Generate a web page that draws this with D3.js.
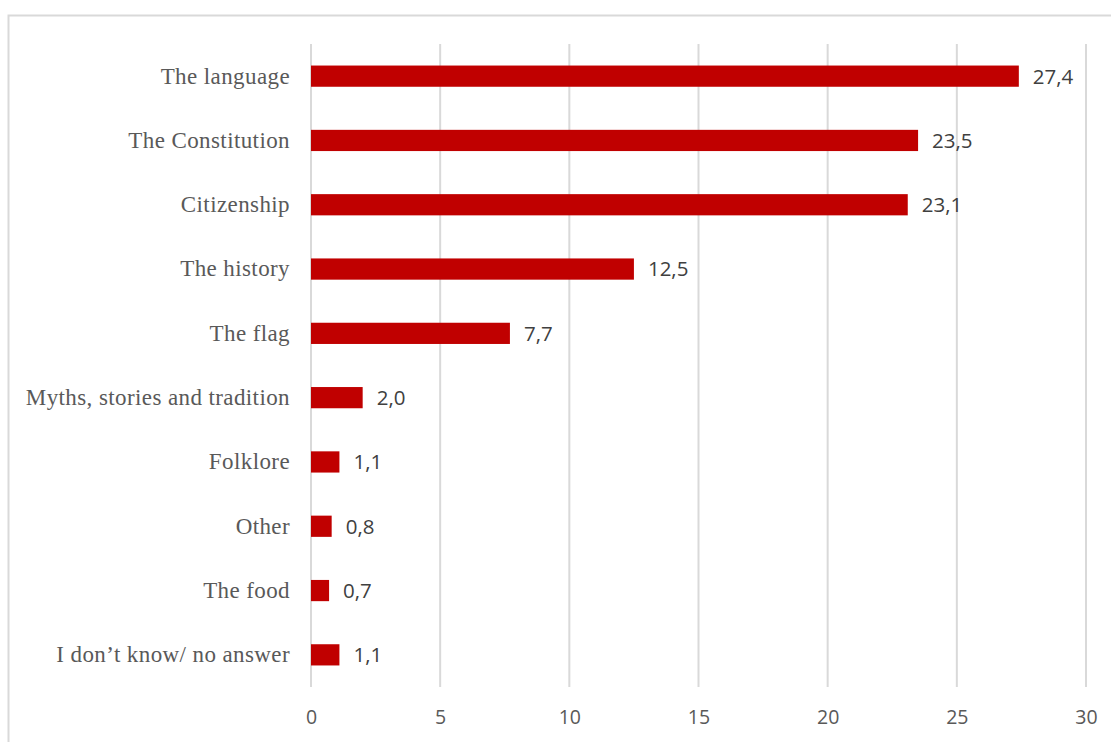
<!DOCTYPE html>
<html>
<head>
<meta charset="utf-8">
<script src="https://cdn.jsdelivr.net/npm/d3@7"></script>
<style>
  html, body { margin: 0; padding: 0; background: #fff; }
  svg { display: block; }
</style>
</head>
<body>
<svg id="chart" width="1111" height="742"></svg>
<script>
// Categories, top to bottom
const categories = [
  "The language",
  "The Constitution",
  "Citizenship",
  "The history",
  "The flag",
  "Myths, stories and tradition",
  "Folklore",
  "Other",
  "The food",
  "I don\u2019t know/ no answer"
];
// Share of answers (%)
const values = [27.4, 23.5, 23.1, 12.5, 7.7, 2.0, 1.1, 0.8, 0.7, 1.1];
// Value axis ticks
const tickValues = [0, 5, 10, 15, 20, 25, 30];

const svg = d3.select("#chart");
const W = 1111, H = 742;
const margin = { left: 311, right: 25, top: 44, bottom: 55 };

// Outer frame
svg.append("rect")
  .attr("x", 8.5).attr("y", 15.5)
  .attr("width", W + 20).attr("height", H + 20)
  .attr("fill", "none").attr("stroke", "#d9d9d9").attr("stroke-width", 2);

const x = d3.scaleLinear().domain([0, 30]).range([margin.left, W - margin.right]);
const y = d3.scaleBand().domain(categories)
  .range([margin.top, H - margin.bottom])
  .paddingInner(0.67).paddingOuter(0.335);

// Vertical gridlines
svg.append("g").selectAll("line").data(tickValues).join("line")
  .attr("x1", d => x(d)).attr("x2", d => x(d))
  .attr("y1", margin.top).attr("y2", H - margin.bottom)
  .attr("stroke", "#d9d9d9").attr("stroke-width", 2);

// X axis tick labels
const xAxis = d3.axisBottom(x).tickValues(tickValues).tickSize(0).tickPadding(0)
  .tickFormat(d => String(d));
const gx = svg.append("g")
  .attr("transform", `translate(0,${H - margin.bottom + 37})`)
  .call(xAxis);
gx.select(".domain").remove();
gx.selectAll("text")
  .attr("dy", "0")
  .attr("font-family", "'Open Sans', 'Liberation Sans', sans-serif")
  .attr("font-size", 19.5).attr("fill", "#595959");

// Category labels
const yAxis = d3.axisLeft(y).tickSize(0).tickPadding(21);
const gy = svg.append("g")
  .attr("transform", `translate(${margin.left},0)`)
  .call(yAxis);
gy.select(".domain").remove();
gy.selectAll("text")
  .attr("font-family", "'Liberation Serif', 'Times New Roman', serif")
  .attr("font-size", 23).attr("letter-spacing", 0.4)
  .attr("fill", "#595959");

// Bars
svg.append("g").selectAll("rect").data(categories).join("rect")
  .attr("x", x(0))
  .attr("y", d => y(d))
  .attr("width", (d, i) => x(values[i]) - x(0))
  .attr("height", y.bandwidth())
  .attr("fill", "#c00000");

// Value labels
const fmt = v => v.toFixed(1).replace(".", ",");
svg.append("g").selectAll("text").data(categories).join("text")
  .attr("x", (d, i) => x(values[i]) + 14)
  .attr("y", d => y(d) + y.bandwidth() / 2)
  .attr("dy", "0.36em")
  .attr("font-family", "'Open Sans', 'Liberation Sans', sans-serif")
  .attr("font-size", 20.5).attr("fill", "#404040")
  .text((d, i) => fmt(values[i]));
</script>
</body>
</html>
